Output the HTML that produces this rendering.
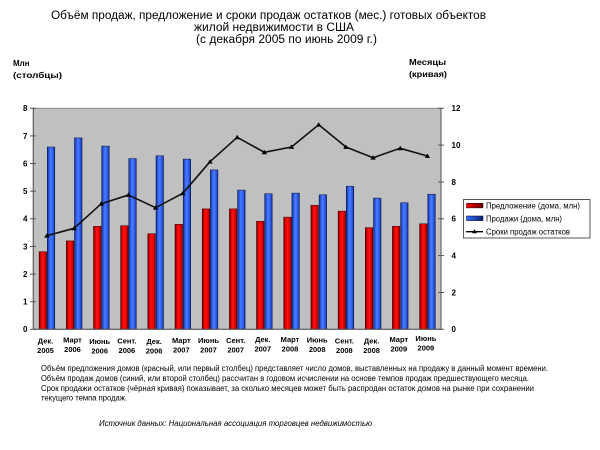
<!DOCTYPE html>
<html>
<head>
<meta charset="utf-8">
<style>
html,body{margin:0;padding:0;background:#fff;}
svg{display:block;}
text{font-family:"Liberation Sans","DejaVu Sans",sans-serif;fill:#000;}
.b{font-weight:bold;}
</style>
</head>
<body>
<svg width="600" height="450" viewBox="0 0 600 450" xmlns="http://www.w3.org/2000/svg">
<defs>
<linearGradient id="gr" x1="0" y1="0" x2="1" y2="0">
<stop offset="0" stop-color="#6a0000"/>
<stop offset="0.2" stop-color="#d00000"/>
<stop offset="0.45" stop-color="#ff1010"/>
<stop offset="0.8" stop-color="#e00000"/>
<stop offset="1" stop-color="#700000"/>
</linearGradient>
<linearGradient id="gb" x1="0" y1="0" x2="1" y2="0">
<stop offset="0" stop-color="#102a80"/>
<stop offset="0.2" stop-color="#2b55e0"/>
<stop offset="0.45" stop-color="#4a7cff"/>
<stop offset="0.8" stop-color="#2a58e8"/>
<stop offset="1" stop-color="#102a80"/>
</linearGradient>
<linearGradient id="lgr" x1="0" y1="0" x2="1" y2="0">
<stop offset="0" stop-color="#ff0000"/>
<stop offset="1" stop-color="#600000"/>
</linearGradient>
<linearGradient id="lgb" x1="0" y1="0" x2="1" y2="0">
<stop offset="0" stop-color="#3a6cff"/>
<stop offset="1" stop-color="#0c2070"/>
</linearGradient>
</defs>

<!-- Title -->
<text x="268.5" y="19" font-size="11.5" text-anchor="middle" textLength="435" lengthAdjust="spacingAndGlyphs">Объём продаж, предложение и сроки продаж остатков (мес.) готовых объектов</text>
<text x="274" y="31" font-size="11.5" text-anchor="middle" textLength="160" lengthAdjust="spacingAndGlyphs">жилой недвижимости в США</text>
<text x="286.5" y="43" font-size="11.5" text-anchor="middle" textLength="181" lengthAdjust="spacingAndGlyphs">(с декабря 2005 по июнь 2009 г.)</text>

<!-- Axis titles -->
<text class="b" x="13" y="66" font-size="8">Млн</text>
<text class="b" x="13" y="78" font-size="8" textLength="49" lengthAdjust="spacingAndGlyphs">(столбцы)</text>
<text class="b" x="409" y="65" font-size="8" textLength="37" lengthAdjust="spacingAndGlyphs">Месяцы</text>
<text class="b" x="409" y="77" font-size="8" textLength="38" lengthAdjust="spacingAndGlyphs">(кривая)</text>

<!-- Plot area -->
<rect x="33.3" y="108.3" width="407.7" height="221" fill="#c0c0c0" stroke="#8a8a8a" stroke-width="1"/>

<!-- Bars -->
<g stroke="#300000" stroke-width="0.5">
<rect x="39.1" y="251.7" width="7.5" height="77.6" fill="url(#gr)"/>
<rect x="66.3" y="240.9" width="7.5" height="88.4" fill="url(#gr)"/>
<rect x="93.5" y="226.3" width="7.5" height="103" fill="url(#gr)"/>
<rect x="120.6" y="225.7" width="7.5" height="103.6" fill="url(#gr)"/>
<rect x="147.8" y="233.7" width="7.5" height="95.6" fill="url(#gr)"/>
<rect x="175.0" y="224.3" width="7.5" height="105" fill="url(#gr)"/>
<rect x="202.2" y="208.9" width="7.5" height="120.4" fill="url(#gr)"/>
<rect x="229.4" y="208.9" width="7.5" height="120.4" fill="url(#gr)"/>
<rect x="256.5" y="221.3" width="7.5" height="108" fill="url(#gr)"/>
<rect x="283.7" y="217.1" width="7.5" height="112.2" fill="url(#gr)"/>
<rect x="310.9" y="205.3" width="7.5" height="124" fill="url(#gr)"/>
<rect x="338.1" y="211.1" width="7.5" height="118.2" fill="url(#gr)"/>
<rect x="365.3" y="227.6" width="7.5" height="101.7" fill="url(#gr)"/>
<rect x="392.4" y="226.3" width="7.5" height="103" fill="url(#gr)"/>
<rect x="419.6" y="223.8" width="7.5" height="105.5" fill="url(#gr)"/>
</g>
<g stroke="#00103a" stroke-width="0.5">
<rect x="47.3" y="147.0" width="7.5" height="182.3" fill="url(#gb)"/>
<rect x="74.5" y="137.9" width="7.5" height="191.4" fill="url(#gb)"/>
<rect x="101.7" y="146.1" width="7.5" height="183.2" fill="url(#gb)"/>
<rect x="128.8" y="158.6" width="7.5" height="170.7" fill="url(#gb)"/>
<rect x="156.0" y="155.8" width="7.5" height="173.5" fill="url(#gb)"/>
<rect x="183.2" y="159.1" width="7.5" height="170.2" fill="url(#gb)"/>
<rect x="210.4" y="169.9" width="7.5" height="159.4" fill="url(#gb)"/>
<rect x="237.6" y="190.1" width="7.5" height="139.2" fill="url(#gb)"/>
<rect x="264.7" y="193.7" width="7.5" height="135.6" fill="url(#gb)"/>
<rect x="291.9" y="193.1" width="7.5" height="136.2" fill="url(#gb)"/>
<rect x="319.1" y="194.8" width="7.5" height="134.5" fill="url(#gb)"/>
<rect x="346.3" y="186.2" width="7.5" height="143.1" fill="url(#gb)"/>
<rect x="373.5" y="198.1" width="7.5" height="131.2" fill="url(#gb)"/>
<rect x="400.6" y="202.8" width="7.5" height="126.5" fill="url(#gb)"/>
<rect x="427.8" y="194.2" width="7.5" height="135.1" fill="url(#gb)"/>
</g>

<!-- Line -->
<polyline fill="none" stroke="#111" stroke-width="1.6" stroke-linejoin="round"
points="46.9,235.7 74.1,228.3 101.3,203.7 128.4,195 155.6,207.7 182.8,193.3 210,161.7 237.2,137.3 264.3,152.3 291.5,147 318.7,124.7 345.9,147 373.1,157.7 400.2,148.3 427.4,156"/>
<g fill="#000">
<path d="M46.9,233.2 L49.6,237.6 L44.2,237.6Z"/>
<path d="M74.1,225.8 L76.8,230.2 L71.4,230.2Z"/>
<path d="M101.3,201.2 L104,205.6 L98.6,205.6Z"/>
<path d="M128.4,192.5 L131.1,196.9 L125.7,196.9Z"/>
<path d="M155.6,205.2 L158.3,209.6 L152.9,209.6Z"/>
<path d="M182.8,190.8 L185.5,195.2 L180.1,195.2Z"/>
<path d="M210,159.2 L212.7,163.6 L207.3,163.6Z"/>
<path d="M237.2,134.8 L239.9,139.2 L234.5,139.2Z"/>
<path d="M264.3,149.8 L267,154.2 L261.6,154.2Z"/>
<path d="M291.5,144.5 L294.2,148.9 L288.8,148.9Z"/>
<path d="M318.7,122.2 L321.4,126.6 L316,126.6Z"/>
<path d="M345.9,144.5 L348.6,148.9 L343.2,148.9Z"/>
<path d="M373.1,155.2 L375.8,159.6 L370.4,159.6Z"/>
<path d="M400.2,145.8 L402.9,150.2 L397.5,150.2Z"/>
<path d="M427.4,153.5 L430.1,157.9 L424.7,157.9Z"/>
</g>

<!-- Axes -->
<g stroke="#555" stroke-width="1">
<line x1="33.3" y1="108.3" x2="33.3" y2="329.3"/>
<line x1="441" y1="108.3" x2="441" y2="329.3"/>
<line x1="33.3" y1="329.3" x2="441" y2="329.3"/>
<line x1="30" y1="108.3" x2="36" y2="108.3"/>
<line x1="30" y1="135.9" x2="36" y2="135.9"/>
<line x1="30" y1="163.6" x2="36" y2="163.6"/>
<line x1="30" y1="191.2" x2="36" y2="191.2"/>
<line x1="30" y1="218.8" x2="36" y2="218.8"/>
<line x1="30" y1="246.4" x2="36" y2="246.4"/>
<line x1="30" y1="274.1" x2="36" y2="274.1"/>
<line x1="30" y1="301.7" x2="36" y2="301.7"/>
<line x1="30" y1="329.3" x2="36" y2="329.3"/>
<line x1="438" y1="108.3" x2="444" y2="108.3"/>
<line x1="438" y1="145.1" x2="444" y2="145.1"/>
<line x1="438" y1="182" x2="444" y2="182"/>
<line x1="438" y1="218.8" x2="444" y2="218.8"/>
<line x1="438" y1="255.6" x2="444" y2="255.6"/>
<line x1="438" y1="292.5" x2="444" y2="292.5"/>
<line x1="438" y1="329.3" x2="444" y2="329.3"/>
</g>

<!-- Left tick labels -->
<g class="b" font-size="8" text-anchor="end">
<text class="b" x="27.5" y="111.2">8</text>
<text class="b" x="27.5" y="138.8">7</text>
<text class="b" x="27.5" y="166.5">6</text>
<text class="b" x="27.5" y="194.1">5</text>
<text class="b" x="27.5" y="221.7">4</text>
<text class="b" x="27.5" y="249.3">3</text>
<text class="b" x="27.5" y="277">2</text>
<text class="b" x="27.5" y="304.6">1</text>
<text class="b" x="27.5" y="332.2">0</text>
</g>
<!-- Right tick labels -->
<g font-size="8">
<text class="b" x="451.5" y="111.2">12</text>
<text class="b" x="451.5" y="148">10</text>
<text class="b" x="451.5" y="184.9">8</text>
<text class="b" x="451.5" y="221.7">6</text>
<text class="b" x="451.5" y="258.5">4</text>
<text class="b" x="451.5" y="295.4">2</text>
<text class="b" x="451.5" y="332.2">0</text>
</g>

<!-- X labels -->
<g font-size="7.5" text-anchor="middle">
<text class="b" x="45.5" y="343.5">Дек.</text><text class="b" x="45.5" y="353">2005</text>
<text class="b" x="72.5" y="342.5">Март</text><text class="b" x="72.5" y="352">2006</text>
<text class="b" x="99.7" y="344">Июнь</text><text class="b" x="99.7" y="353.5">2006</text>
<text class="b" x="126.9" y="343.5">Сент.</text><text class="b" x="126.9" y="353">2006</text>
<text class="b" x="154.1" y="344">Дек.</text><text class="b" x="154.1" y="353.5">2006</text>
<text class="b" x="181.3" y="343">Март</text><text class="b" x="181.3" y="352.5">2007</text>
<text class="b" x="208.5" y="343">Июнь</text><text class="b" x="208.5" y="352.5">2007</text>
<text class="b" x="235.7" y="343">Сент.</text><text class="b" x="235.7" y="352.5">2007</text>
<text class="b" x="262.8" y="342">Дек.</text><text class="b" x="262.8" y="351.5">2007</text>
<text class="b" x="290" y="342">Март</text><text class="b" x="290" y="351.5">2008</text>
<text class="b" x="317.2" y="342.5">Июнь</text><text class="b" x="317.2" y="352">2008</text>
<text class="b" x="344.4" y="343.5">Сент.</text><text class="b" x="344.4" y="353">2008</text>
<text class="b" x="371.6" y="343.5">Дек.</text><text class="b" x="371.6" y="353">2008</text>
<text class="b" x="398.8" y="342">Март</text><text class="b" x="398.8" y="351.5">2009</text>
<text class="b" x="425.9" y="341">Июнь</text><text class="b" x="425.9" y="350.5">2009</text>
</g>

<!-- Legend -->
<rect x="463.5" y="199.5" width="126.5" height="38.5" fill="#fff" stroke="#555" stroke-width="1"/>
<rect x="466.5" y="203.3" width="16.5" height="4.6" fill="url(#lgr)" stroke="#300" stroke-width="0.5"/>
<rect x="466.5" y="216" width="16.5" height="4.6" fill="url(#lgb)" stroke="#002" stroke-width="0.5"/>
<line x1="466" y1="231.7" x2="483" y2="231.7" stroke="#000" stroke-width="1.3"/>
<path d="M474.5,229.3 L477,233.3 L472,233.3Z" fill="#000"/>
<text x="486" y="208.6" font-size="8" textLength="94" lengthAdjust="spacingAndGlyphs">Предложение (дома, млн)</text>
<text x="486" y="221.3" font-size="8" textLength="76" lengthAdjust="spacingAndGlyphs">Продажи (дома, млн)</text>
<text x="486" y="234.3" font-size="8" textLength="84" lengthAdjust="spacingAndGlyphs">Сроки продаж остатков</text>

<!-- Notes -->
<text x="41" y="371" font-size="7.8" textLength="507" lengthAdjust="spacingAndGlyphs">Объём предложения домов (красный, или первый столбец) представляет число домов, выставленных на продажу в данный момент времени.</text>
<text x="41" y="381" font-size="7.8" textLength="488" lengthAdjust="spacingAndGlyphs">Объём продаж домов (синий, или второй столбец) рассчитан в годовом исчислении на основе темпов продаж предшествующего месяца.</text>
<text x="41" y="391" font-size="7.8" textLength="493" lengthAdjust="spacingAndGlyphs">Срок продажи остатков (чёрная кривая) показывает, за сколько месяцев может быть распродан остаток домов на рынке при сохранении</text>
<text x="41" y="400.5" font-size="7.8" textLength="86" lengthAdjust="spacingAndGlyphs">текущего темпа продаж.</text>

<text x="99" y="426" font-size="8" font-style="italic" textLength="273" lengthAdjust="spacingAndGlyphs">Источник данных: Национальная ассоциация торговцев недвижимостью</text>
</svg>
</body>
</html>
